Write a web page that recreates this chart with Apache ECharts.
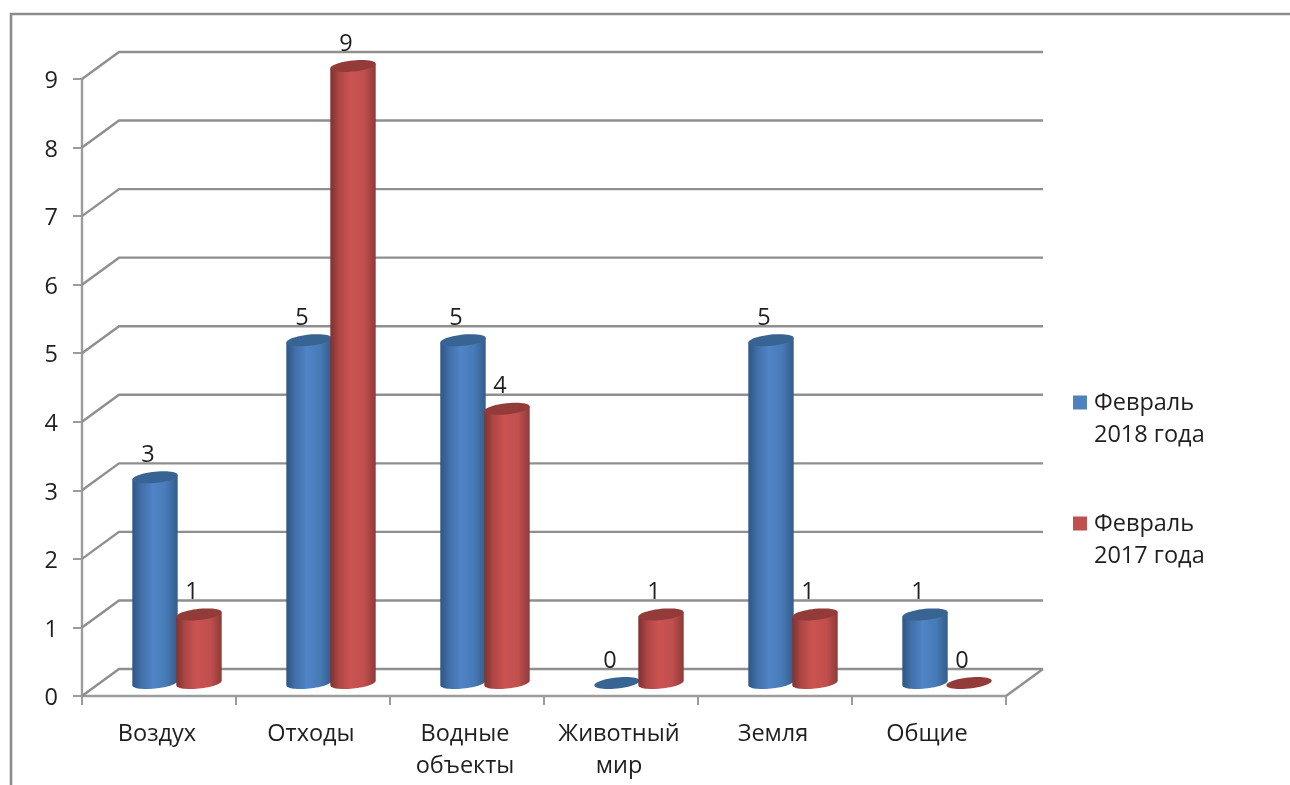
<!DOCTYPE html>
<html><head><meta charset="utf-8">
<style>html,body{margin:0;padding:0;background:#fff}#c{width:1290px;height:785px}</style>
<script src="https://cdn.jsdelivr.net/npm/echarts@6/dist/echarts.min.js"></script>
</head><body><div id="c"></div>
<script>
const categories = ['Воздух','Отходы','Водные\nобъекты','Животный\nмир','Земля','Общие'];
const feb2018 = [3,5,5,0,5,1];
const feb2017 = [1,9,4,1,1,0];
const tickValues = [0,1,2,3,4,5,6,7,8,9];
const name2018 = 'Февраль\n2018 года';
const name2017 = 'Февраль\n2017 года';

const FONT = '"Open Sans", sans-serif';
const SIZE = 23.5;
const DEPTH_X = 37, DEPTH_Y = 27, BAR_DEPTH_Y = 13;
const GRID_COLOR = '#8f8f8f';
const AXIS_COLOR = '#9c9c9c';

function ellipsePts(cx, cy, rx, ry, s, from, to, n) {
  const pts = [];
  for (let i = 0; i <= n; i++) {
    const t = from + (to - from) * i / n;
    pts.push([cx + rx * Math.cos(t), cy + ry * Math.sin(t) - s * rx * Math.cos(t)]);
  }
  return pts;
}

function cylinderRenderer(offsetRatio, palette) {
  return function (params, api) {
    const band = api.size([1, 0])[0];
    const base = api.coord([api.value(0), 0]);
    const top = api.coord([api.value(0), api.value(1)]);
    const cx = base[0] + band * offsetRatio;
    const by = base[1] - BAR_DEPTH_Y;
    const ty = top[1] - BAR_DEPTH_Y;
    const rx = 22.7, ry = 5.6, s = 0.1;
    const children = [];
    if (api.value(1) > 0) {
      const body = ellipsePts(cx, by, rx, ry, s, Math.PI, 0, 30);
      const polygon = [[cx - rx, ty + s * rx]].concat(body, [[cx + rx, ty - s * rx]]);
      children.push({
        type: 'polygon',
        shape: { points: polygon },
        style: {
          fill: new echarts.graphic.LinearGradient(0, 0, 1, 0, palette.stops),
          stroke: null
        }
      });
    }
    children.push({
      type: 'polygon',
      shape: { points: ellipsePts(cx, ty, rx, ry, s, 0, Math.PI * 2, 48) },
      style: { fill: palette.cap, stroke: null }
    });
    children.push({
      type: 'text',
      style: {
        text: String(api.value(1)),
        x: cx - 7, y: ty - 22,
        align: 'center', verticalAlign: 'middle',
        fill: '#1f1f1f', font: SIZE + 'px ' + FONT
      }
    });
    return { type: 'group', children };
  };
}

function gridRenderer(params, api) {
  const cs = params.coordSys;
  const y = api.coord([0, api.value(1)])[1];
  const x0 = cs.x, x1 = cs.x + cs.width;
  const children = [{
    type: 'polyline',
    shape: { points: [[x0, y], [x0 + DEPTH_X, y - DEPTH_Y], [x1 + DEPTH_X, y - DEPTH_Y]] },
    style: { stroke: GRID_COLOR, lineWidth: 2.4, fill: null }
  }];
  if (api.value(1) === 0) {
    children.push({
      type: 'line',
      shape: { x1: x1, y1: y, x2: x1 + DEPTH_X, y2: y - DEPTH_Y },
      style: { stroke: GRID_COLOR, lineWidth: 2.4 }
    });
  }
  return { type: 'group', children };
}

const bluePalette = {
  cap: '#386493',
  stops: [
    { offset: 0, color: '#2f5685' }, { offset: 0.2, color: '#416fa8' },
    { offset: 0.45, color: '#5084c7' }, { offset: 0.75, color: '#477ab5' },
    { offset: 1, color: '#335d8c' }
  ]
};
const redPalette = {
  cap: '#933b39',
  stops: [
    { offset: 0, color: '#7f3230' }, { offset: 0.2, color: '#ad4745' },
    { offset: 0.45, color: '#cb5352' }, { offset: 0.75, color: '#c04f4d' },
    { offset: 1, color: '#8f3a38' }
  ]
};

const legendIcon = h => 'path://M0 0H14V14H0Z M0 ' + h + 'H0';

const chart = echarts.init(document.getElementById('c'), null, { renderer: 'canvas' });
chart.setOption({
  animation: false,
  backgroundColor: '#fff',
  grid: { left: 82, top: 79, width: 924, height: 617, containLabel: false },
  xAxis: {
    type: 'category', data: categories,
    axisLine: { lineStyle: { color: AXIS_COLOR, width: 2.4 } },
    axisTick: { show: true, alignWithLabel: false, length: 9, lineStyle: { color: AXIS_COLOR, width: 2 } },
    axisLabel: { interval: 0, margin: 22, color: '#1f1f1f', fontFamily: FONT, fontSize: SIZE, lineHeight: 32, padding: [0, 4, 0, 0] },
    splitLine: { show: false }
  },
  yAxis: {
    type: 'value', min: 0, max: 9, interval: 1,
    axisLine: { show: true, lineStyle: { color: AXIS_COLOR, width: 2.4 } },
    axisTick: { show: true, length: 9, lineStyle: { color: AXIS_COLOR, width: 2 } },
    axisLabel: { margin: 24, color: '#1f1f1f', fontFamily: FONT, fontSize: SIZE, verticalAlign: 'top', lineHeight: 5 },
    splitLine: { show: false }
  },
  legend: {
    orient: 'vertical', left: 1073, top: 387, padding: 0,
    data: [
      { name: name2018, icon: legendIcon(47), itemStyle: { color: '#4f81bd' } },
      { name: name2017, icon: legendIcon(47), itemStyle: { color: '#c0504d' } }
    ],
    itemWidth: 14, itemHeight: 47, itemGap: 57,
    textStyle: { color: '#1f1f1f', fontFamily: FONT, fontSize: SIZE, lineHeight: 32, padding: [0, 0, 0, 2] }
  },
  graphic: [{
    type: 'polyline', silent: true, z: 0,
    shape: { points: [[11, 785], [11, 14], [1290, 14]] },
    style: { stroke: '#8c8c8c', lineWidth: 2.6, fill: null }
  }],
  series: [
    { type: 'custom', name: 'grid', silent: true, z: 1, clip: false,
      renderItem: gridRenderer, encode: { x: 0, y: 1 },
      data: tickValues.map(v => [0, v]) },
    { type: 'custom', name: name2018, z: 2, clip: false,
      itemStyle: { color: '#4f81bd' },
      renderItem: cylinderRenderer(-4 / 154, bluePalette), encode: { x: 0, y: 1 },
      data: feb2018.map((v, i) => [i, v]) },
    { type: 'custom', name: name2017, z: 3, clip: false,
      itemStyle: { color: '#c0504d' },
      renderItem: cylinderRenderer(40 / 154, redPalette), encode: { x: 0, y: 1 },
      data: feb2017.map((v, i) => [i, v]) }
  ]
});
</script></body></html>
